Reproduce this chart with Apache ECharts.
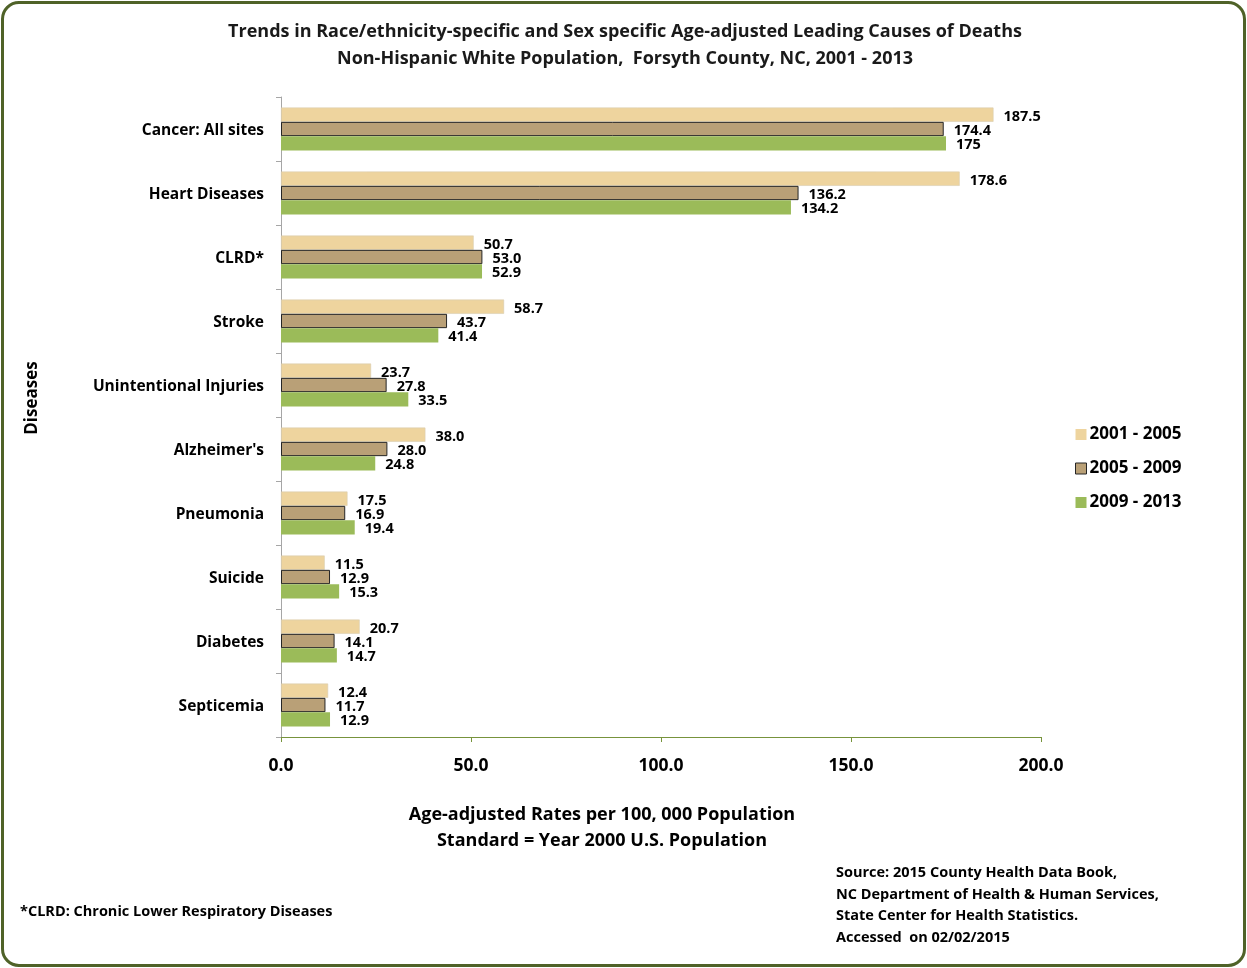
<!DOCTYPE html>
<html>
<head>
<meta charset="utf-8">
<script src="https://cdn.jsdelivr.net/npm/echarts@6/dist/echarts.min.js"></script>
<style>
html,body{margin:0;padding:0;background:#fff;}
#frame{position:absolute;left:1px;top:1px;width:1245px;height:966px;box-sizing:border-box;border:3px solid #4F6228;border-radius:18px;background:#fff;}
#chart{position:absolute;left:0;top:0;width:1247px;height:968px;}
</style>
</head>
<body>
<div id="frame"></div>
<div id="chart"></div>
<script>
const categories = ["Cancer: All sites","Heart Diseases","CLRD*","Stroke","Unintentional Injuries","Alzheimer's","Pneumonia","Suicide","Diabetes","Septicemia"];
const seriesNames = ["2001 - 2005","2005 - 2009","2009 - 2013"];
const rates2001_2005 = ["187.5","178.6","50.7","58.7","23.7","38.0","17.5","11.5","20.7","12.4"];
const rates2005_2009 = ["174.4","136.2","53.0","43.7","27.8","28.0","16.9","12.9","14.1","11.7"];
const rates2009_2013 = ["175","134.2","52.9","41.4","33.5","24.8","19.4","15.3","14.7","12.9"];
const xTicks = {min:0, max:200, interval:50};

const FONT = '"Open Sans", sans-serif';
const allRates = [rates2001_2005, rates2005_2009, rates2009_2013];
const colors = ['#EED49E','#B9A077','#9BBB59'];
const borders = ['#D9CDB0','#262626','#9BBB59'];

const chart = echarts.init(document.getElementById('chart'), null, {renderer:'canvas'});
const series = seriesNames.map((n,i)=>({
  name:n, type:'bar',
  data: allRates[i].map(Number),
  barGap:'0%', barCategoryGap:'33%',
  itemStyle:{color:colors[i], borderColor:borders[i], borderWidth: i===1?1:(i===0?0.6:0)},
  label:{show:true, position:'right', distance:10, offset:[0,2], color:'#000', fontFamily:FONT, fontWeight:'bold', fontSize:14.5,
    formatter:p=>allRates[p.seriesIndex][p.dataIndex]},
  emphasis:{disabled:true}
}));

chart.setOption({
  animation:false,
  backgroundColor:'transparent',
  grid:{left:281, right:206, top:97, bottom:231, containLabel:false},
  xAxis:{type:'value', min:xTicks.min, max:xTicks.max, interval:xTicks.interval,
    axisLine:{show:true, lineStyle:{color:'#77933C', width:1}},
    axisTick:{show:true, length:5, lineStyle:{color:'#77933C'}},
    splitLine:{show:false},
    axisLabel:{margin:20, color:'#000', fontFamily:FONT, fontWeight:'bold', fontSize:17.5, formatter:v=>v.toFixed(1)}
  },
  yAxis:{type:'category', data:categories, inverse:true,
    axisLine:{show:true, lineStyle:{color:'#A6A6A6', width:1}},
    axisTick:{show:true, length:5, lineStyle:{color:'#A6A6A6'}},
    axisLabel:{margin:17, color:'#000', fontFamily:FONT, fontWeight:'bold', fontSize:15.5, lineHeight:22, verticalAlign:'middle',
      formatter:v=>'{a|'+v+'}', rich:{a:{fontFamily:FONT, fontWeight:'bold', fontSize:15.5, color:'#000', padding:[4,0,0,0]}}}
  },
  legend:{orient:'vertical', left:1070, top:421, itemWidth:11, itemHeight:11, itemGap:17, icon:'rect',
    data:seriesNames.map((n,i)=>({name:n, itemStyle:{color:colors[i], borderColor:i===1?'#262626':colors[i], borderWidth:i===1?1:0}})),
    textStyle:{color:'#000', fontFamily:FONT, fontWeight:'bold', fontSize:17, padding:[0,0,0,-2]}
  },
  graphic:[
    {type:'text', x:625, y:18.5, style:{text:'Trends in Race/ethnicity-specific and Sex specific Age-adjusted Leading Causes of Deaths\nNon-Hispanic White Population,  Forsyth County, NC, 2001 - 2013', textAlign:'center', font:'bold 18px '+FONT, fill:'#1a1a1a', lineHeight:27}},
    {type:'text', x:602, y:802, style:{text:'Age-adjusted Rates per 100, 000 Population\nStandard = Year 2000 U.S. Population', textAlign:'center', font:'bold 18px '+FONT, fill:'#000', lineHeight:26}},
    {type:'text', x:32, y:398, rotation:Math.PI/2, style:{text:'Diseases', textAlign:'center', textVerticalAlign:'middle', font:'bold 17px '+FONT, fill:'#000'}},
    {type:'text', x:20, y:904, style:{text:'*CLRD: Chronic Lower Respiratory Diseases', font:'bold 14.5px '+FONT, fill:'#000'}},
    {type:'text', x:836, y:862, style:{text:'Source: 2015 County Health Data Book,\nNC Department of Health & Human Services,\nState Center for Health Statistics.\nAccessed  on 02/02/2015', font:'bold 14.5px '+FONT, fill:'#000', lineHeight:21.7}}
  ],
  series:series
});
</script>
</body>
</html>
